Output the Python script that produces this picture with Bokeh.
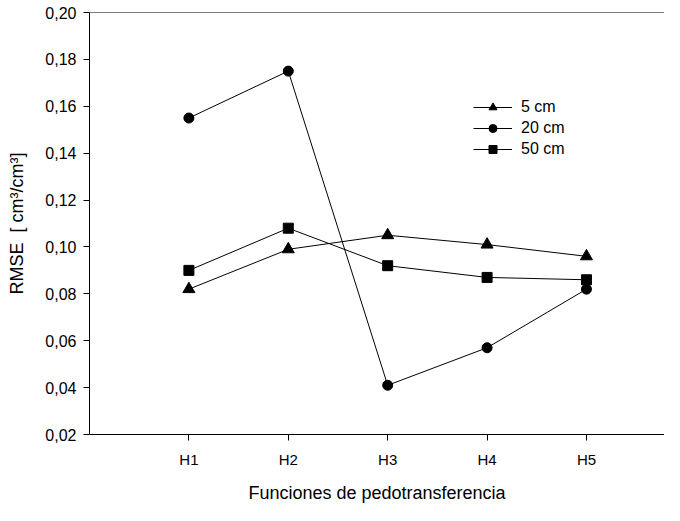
from bokeh.plotting import figure
from bokeh.models import (Range1d, FixedTicker, CustomJSTickFormatter, Legend,
                          LegendItem, Span, ColumnDataSource)
from bokeh.embed import file_html
from bokeh.resources import INLINE

# ---- data ----
categories = ["H1", "H2", "H3", "H4", "H5"]
x_pos = [1, 2, 3, 4, 5]
rmse_5cm = [0.082, 0.099, 0.105, 0.101, 0.096]
rmse_20cm = [0.155, 0.175, 0.041, 0.057, 0.082]
rmse_50cm = [0.090, 0.108, 0.092, 0.087, 0.086]
series_labels = ["5 cm", "20 cm", "50 cm"]
y_ticks = [0.02, 0.04, 0.06, 0.08, 0.10, 0.12, 0.14, 0.16, 0.18, 0.20]
y_tick_labels = ["0,02", "0,04", "0,06", "0,08", "0,10", "0,12", "0,14",
                 "0,16", "0,18", "0,20"]

FONT = "Liberation Sans"

p = figure(width=664, height=505, output_backend="svg", toolbar_location=None,
           x_range=Range1d(0, 5.785), y_range=Range1d(0.02, 0.20),
           min_border_left=89, min_border_right=0, min_border_top=12,
           min_border_bottom=64)
p.background_fill_color = "white"
p.border_fill_color = "white"
p.outline_line_color = None
p.grid.visible = False

src = ColumnDataSource(dict(x=x_pos, y5=rmse_5cm, y20=rmse_20cm, y50=rmse_50cm))

l5 = p.line("x", "y5", source=src, line_color="black", line_width=1)
m5 = p.scatter("x", "y5", source=src, marker="triangle", size=12,
               fill_color="black", line_color="black")
l20 = p.line("x", "y20", source=src, line_color="black", line_width=1)
m20 = p.scatter("x", "y20", source=src, marker="circle", size=10,
                fill_color="black", line_color="black")
l50 = p.line("x", "y50", source=src, line_color="black", line_width=1)
m50 = p.scatter("x", "y50", source=src, marker="square", size=10,
                fill_color="black", line_color="black")

# top frame line
p.add_layout(Span(location=y_ticks[-1], dimension="width", line_color="black",
                  line_width=1))

# axes
xa = p.xaxis[0]
xa.ticker = FixedTicker(ticks=x_pos)
xa.formatter = CustomJSTickFormatter(args=dict(pos=x_pos, labels=categories), code="""
    let best = 0;
    for (let i = 0; i < pos.length; i++) {
        if (Math.abs(pos[i] - tick) < Math.abs(pos[best] - tick)) best = i;
    }
    return labels[best];
""")
xa.axis_label = "Funciones de pedotransferencia"

ya = p.yaxis[0]
ya.ticker = FixedTicker(ticks=y_ticks)
ya.formatter = CustomJSTickFormatter(args=dict(pos=y_ticks, labels=y_tick_labels), code="""
    let best = 0;
    for (let i = 0; i < pos.length; i++) {
        if (Math.abs(pos[i] - tick) < Math.abs(pos[best] - tick)) best = i;
    }
    return labels[best];
""")
ya.axis_label = "RMSE\u00a0 [ cm³/cm³]"

for ax in (xa, ya):
    ax.axis_line_color = "black"
    ax.axis_line_width = 1
    ax.major_tick_line_color = "black"
    ax.major_tick_out = 6
    ax.major_tick_in = 0
    ax.minor_tick_line_color = None
    ax.major_label_text_font = FONT
    ax.major_label_text_color = "black"
    ax.axis_label_text_font = FONT
    ax.axis_label_text_font_style = "normal"
    ax.axis_label_text_font_size = "18px"
    ax.axis_label_text_color = "black"

xa.major_label_text_font_size = "15px"
xa.major_label_standoff = 10
xa.axis_label_standoff = 12
ya.major_label_text_font_size = "16px"
ya.major_label_standoff = 7
ya.axis_label_standoff = 15

legend = Legend(items=[
    LegendItem(label=series_labels[0], renderers=[l5, m5]),
    LegendItem(label=series_labels[1], renderers=[l20, m20]),
    LegendItem(label=series_labels[2], renderers=[l50, m50]),
], location=(384, 275))
legend.background_fill_alpha = 0
legend.border_line_color = None
legend.padding = 0
legend.margin = 0
legend.spacing = 1
legend.glyph_width = 39
legend.glyph_height = 20
legend.label_height = 20
legend.label_standoff = 9
legend.label_text_font = FONT
legend.label_text_font_size = "16px"
legend.label_text_color = "black"
p.add_layout(legend)

open("out.html", "w").write(file_html(p, INLINE))
